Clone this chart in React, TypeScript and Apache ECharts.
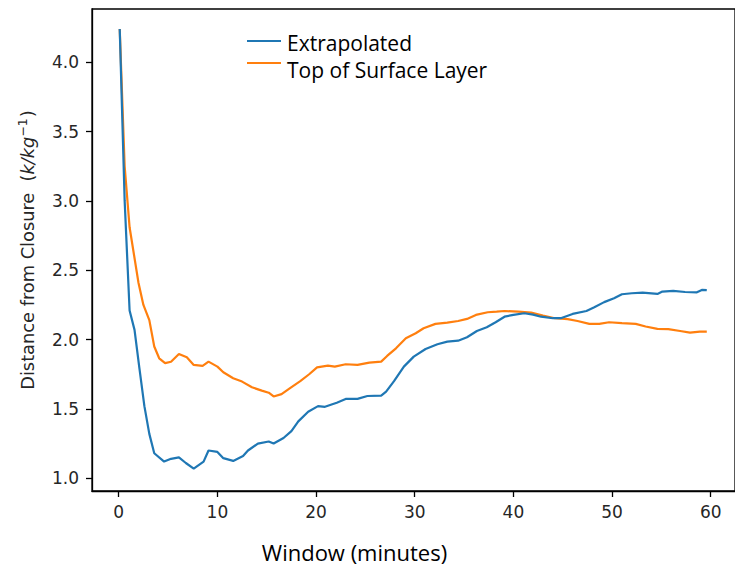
import React, { useEffect, useRef } from "react";
import * as echarts from "echarts";

const extrapolatedX = [0.1, 0.6, 1.1, 1.6, 2.1, 2.6, 3.1, 3.6, 4.6, 5.3, 6.1, 6.8, 7.6, 8.6, 9.1, 10.0, 10.6, 11.6, 12.6, 13.1, 14.1, 15.2, 15.7, 16.7, 17.5, 18.2, 19.2, 20.2, 20.9, 22.1, 23.0, 24.2, 25.2, 26.6, 27.1, 27.9, 28.9, 29.9, 31.1, 32.3, 33.3, 34.4, 35.3, 36.3, 37.3, 38.2, 39.1, 40.0, 41.1, 42.0, 42.8, 44.0, 44.8, 46.0, 47.4, 48.2, 49.2, 50.2, 51.0, 52.0, 53.1, 54.6, 55.1, 56.2, 57.4, 58.6, 59.1, 59.6];
const extrapolatedY = [4.24, 3.0, 2.21, 2.07, 1.79, 1.52, 1.32, 1.18, 1.12, 1.14, 1.15, 1.11, 1.07, 1.12, 1.2, 1.19, 1.145, 1.125, 1.16, 1.2, 1.25, 1.265, 1.25, 1.29, 1.34, 1.41, 1.48, 1.52, 1.515, 1.545, 1.572, 1.572, 1.593, 1.596, 1.625, 1.7, 1.805, 1.877, 1.932, 1.966, 1.985, 1.992, 2.017, 2.062, 2.089, 2.125, 2.165, 2.178, 2.19, 2.18, 2.165, 2.154, 2.154, 2.185, 2.206, 2.233, 2.27, 2.298, 2.327, 2.334, 2.338, 2.329, 2.346, 2.351, 2.343, 2.341, 2.358, 2.356];

const surfaceX = [0.1, 0.6, 1.1, 2.0, 2.5, 3.1, 3.6, 4.1, 4.7, 5.3, 6.1, 6.9, 7.6, 8.5, 9.1, 10.0, 10.6, 11.6, 12.5, 13.5, 14.5, 15.2, 15.7, 16.5, 17.4, 18.4, 19.3, 20.1, 21.2, 21.9, 23.0, 24.2, 25.4, 26.6, 27.2, 28.1, 29.1, 30.1, 30.9, 32.1, 33.3, 34.4, 35.3, 36.2, 37.4, 38.3, 39.1, 40.5, 41.8, 43.0, 44.2, 45.5, 46.5, 47.7, 48.7, 49.7, 51.0, 52.4, 53.4, 54.6, 55.7, 56.9, 57.9, 58.9, 59.6];
const surfaceY = [4.24, 3.25, 2.81, 2.41, 2.25, 2.14, 1.95, 1.865, 1.83, 1.84, 1.896, 1.873, 1.817, 1.81, 1.841, 1.805, 1.764, 1.721, 1.697, 1.656, 1.632, 1.617, 1.59, 1.607, 1.652, 1.7, 1.75, 1.8, 1.812, 1.805, 1.822, 1.817, 1.834, 1.841, 1.882, 1.937, 2.01, 2.046, 2.082, 2.113, 2.122, 2.134, 2.149, 2.178, 2.197, 2.201, 2.206, 2.201, 2.194, 2.173, 2.154, 2.147, 2.134, 2.113, 2.113, 2.125, 2.118, 2.113, 2.094, 2.077, 2.075, 2.062, 2.05, 2.058, 2.058];

const xTicks = [0, 10, 20, 30, 40, 50, 60];
const yTicks = [1.0, 1.5, 2.0, 2.5, 3.0, 3.5, 4.0];
const seriesNames = ["Extrapolated", "Top of Surface Layer"];
const colors = ["#1f77b4", "#ff7f0e"];

export default function App() {
  const ref = useRef<HTMLDivElement>(null);
  useEffect(() => {
    if (!ref.current) return;
    const chart = echarts.init(ref.current, null, { renderer: "svg" });
    const tickFont = { fontFamily: "DejaVu Sans", fontSize: 17, color: "#262626" };
    chart.setOption({
      animation: false,
      grid: {
        left: 92,
        top: 9,
        right: -5,
        bottom: 79,
        show: true,
        borderColor: "#000",
        borderWidth: 1.3,
        backgroundColor: "transparent",
      },
      xAxis: {
        type: "value",
        min: -2.71,
        max: 62.46,
        splitLine: { show: false },
        axisLine: { show: true, onZero: false, lineStyle: { color: "#000", width: 1.3 } },
        axisTick: { show: true, length: 6, customValues: xTicks, lineStyle: { color: "#000", width: 1.3 } },
        axisLabel: { ...tickFont, margin: 12, customValues: xTicks, formatter: (v: number) => String(v) },
      },
      yAxis: {
        type: "value",
        min: 0.908,
        max: 4.384,
        splitLine: { show: false },
        axisLine: { show: true, onZero: false, lineStyle: { color: "#000", width: 1.3 } },
        axisTick: { show: true, length: 6, customValues: yTicks, lineStyle: { color: "#000", width: 1.3 } },
        axisLabel: { ...tickFont, margin: 13, customValues: yTicks, formatter: (v: number) => v.toFixed(1) },
      },
      series: [
        {
          name: seriesNames[0],
          type: "line",
          showSymbol: false,
          data: extrapolatedX.map((x, i) => [x, extrapolatedY[i]]),
          lineStyle: { color: colors[0], width: 2.2 },
          itemStyle: { color: colors[0] },
          z: 3,
        },
        {
          name: seriesNames[1],
          type: "line",
          showSymbol: false,
          data: surfaceX.map((x, i) => [x, surfaceY[i]]),
          lineStyle: { color: colors[1], width: 2.2 },
          itemStyle: { color: colors[1] },
          z: 2,
        },
      ],
      graphic: [
        { type: "line", shape: { x1: 247, y1: 41, x2: 281, y2: 41 }, style: { stroke: colors[0], lineWidth: 2.2 } },
        { type: "line", shape: { x1: 247, y1: 63, x2: 281, y2: 63 }, style: { stroke: colors[1], lineWidth: 2.2 } },
        {
          type: "text",
          x: 287,
          y: 43,
          style: { text: seriesNames[0], fontFamily: "Open Sans", fontSize: 21, fill: "#000", textAlign: "left", textVerticalAlign: "middle" },
        },
        {
          type: "text",
          x: 287,
          y: 70,
          style: { text: seriesNames[1], fontFamily: "Open Sans", fontSize: 21, fill: "#000", textAlign: "left", textVerticalAlign: "middle" },
        },
        {
          type: "text",
          x: 354.5,
          y: 552,
          style: { text: "Window (minutes)", fontFamily: "Open Sans", fontSize: 22, fill: "#000", textAlign: "center", textVerticalAlign: "middle" },
        },
        {
          type: "text",
          x: 27,
          y: 250,
          rotation: Math.PI / 2,
          style: {
            text: "{a|Distance from Closure  }{b|(}{i|k/kg}{s|−1}{b|)}",
            textAlign: "center",
            textVerticalAlign: "middle",
            rich: {
              a: { fontFamily: "DejaVu Sans", fontSize: 17.8, fill: "#262626", lineHeight: 22 },
              b: { fontFamily: "DejaVu Sans", fontSize: 17.8, fill: "#262626", lineHeight: 22 },
              i: { fontFamily: "DejaVu Sans", fontStyle: "italic", fontSize: 17.8, fill: "#262626", lineHeight: 22 },
              s: { fontFamily: "DejaVu Sans", fontSize: 12.5, fill: "#262626", lineHeight: 22, verticalAlign: "top", padding: [0, 1, 6, 0] },
            },
          },
        },
      ],
    });
    return () => chart.dispose();
  }, []);
  return <div ref={ref} style={{ position: "absolute", left: 0, top: 0, width: 735, height: 570 }} />;
}
